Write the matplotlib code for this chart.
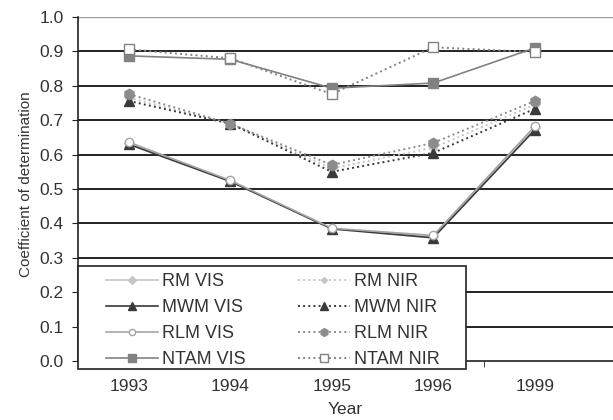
import matplotlib
matplotlib.use("Agg")
import matplotlib.pyplot as plt
from matplotlib.patches import Rectangle
import numpy as np

plt.rcParams['font.family'] = ['Liberation Sans', 'DejaVu Sans']

years = ['1993', '1994', '1995', '1996', '1999']
rm_vis = [0.635, 0.523, 0.385, 0.362, 0.68]
mwm_vis = [0.630, 0.522, 0.384, 0.358, 0.672]
rlm_vis = [0.636, 0.525, 0.386, 0.365, 0.682]
ntam_vis = [0.887, 0.877, 0.793, 0.808, 0.910]
rm_nir = [0.765, 0.690, 0.560, 0.620, 0.745]
mwm_nir = [0.756, 0.690, 0.550, 0.605, 0.733]
rlm_nir = [0.776, 0.690, 0.570, 0.634, 0.756]
ntam_nir = [0.906, 0.880, 0.776, 0.912, 0.898]

W, H = 613, 420
fig = plt.figure(figsize=(W / 100, H / 100), dpi=100)
left, right, bottom, top = 78, 613, 361, 17
ax = fig.add_axes([left / W, 1 - bottom / H, (right - left) / W, (bottom - top) / H])

x = np.arange(len(years))
light = '#c6c6c6'
dark = '#3a3a3a'
mid = '#a4a4a4'
sq = '#828282'
circ = '#8c8c8c'

lines = []
lines.append(ax.plot(x, rm_vis, '-', color=light, lw=1.2, marker='D', ms=5.5, mfc=light, mec=light, label='RM VIS')[0])
lines.append(ax.plot(x, mwm_vis, '-', color=dark, lw=1.2, marker='^', ms=7, mfc=dark, mec=dark, label='MWM VIS')[0])
lines.append(ax.plot(x, rlm_vis, '-', color=mid, lw=1.2, marker='o', ms=6, mfc='white', mec=mid, label='RLM VIS')[0])
lines.append(ax.plot(x, ntam_vis, '-', color=sq, lw=1.2, marker='s', ms=7.5, mfc=sq, mec=sq, label='NTAM VIS')[0])
lines.append(ax.plot(x, rm_nir, ':', color=light, lw=1.4, marker='D', ms=4, mfc=light, mec=light, label='RM NIR')[0])
lines.append(ax.plot(x, mwm_nir, ':', color=dark, lw=1.4, marker='^', ms=7.5, mfc=dark, mec=dark, label='MWM NIR')[0])
lines.append(ax.plot(x, rlm_nir, ':', color=circ, lw=1.4, marker='h', ms=7.5, mfc=circ, mec=circ, label='RLM NIR')[0])
lines.append(ax.plot(x, ntam_nir, ':', color=sq, lw=1.4, marker='s', ms=7.5, mfc='white', mec=sq, label='NTAM NIR')[0])

ax.set_ylim(0, 1.0)
ax.set_xlim(-0.5, (right - left) / 101.5 - 0.5)
yt = np.round(np.arange(0, 1.01, 0.1), 1)
ax.set_yticks(yt)
ax.set_yticklabels([f'{v:.1f}' for v in yt])
for v in yt[1:-1]:
    ax.axhline(v, color='#222222', lw=1.4, zorder=0)
ax.axhline(1.0, color='#a0a0a0', lw=1.0, zorder=0)

ax.set_xticks(x)
ax.set_xticklabels(years)
ax.set_xticks([0.5, 1.5, 2.5, 3.5], minor=True)
ax.tick_params(axis='x', which='major', length=0, pad=13, labelsize=12.5, colors='#333333')
ax.tick_params(axis='x', which='minor', length=4.5, direction='out', color='#222222')
ax.tick_params(axis='y', length=4.5, direction='out', labelsize=12.5, pad=6, colors='#333333')
ax.tick_params(axis='y', color='#222222')

for s in ['top', 'right']:
    ax.spines[s].set_visible(False)
ax.spines['left'].set_color('#222222')
ax.spines['bottom'].set_color('#222222')
ax.spines['left'].set_linewidth(1.2)
ax.spines['bottom'].set_linewidth(1.2)

ax.set_xlabel('Year', fontsize=12.5, color='#333333', labelpad=6)
ax.set_ylabel('Coefficient of determination', fontsize=11, color='#333333')
ax.yaxis.set_label_coords(-0.084, 0.515)

# legend frame
box_l, box_t, box_r, box_b = 78, 266, 466, 369
frame = Rectangle((box_l / W, 1 - box_b / H), (box_r - box_l) / W, (box_b - box_t) / H,
                  transform=fig.transFigure, facecolor='white', edgecolor='#222222',
                  lw=1.2, zorder=4, clip_on=False)
ax.add_patch(frame)

leg = ax.legend(handles=lines, ncol=2, loc='upper left',
                bbox_to_anchor=(106 / W, 1 - 273 / H), bbox_transform=fig.transFigure,
                frameon=False, fontsize=13, handlelength=2.9, handletextpad=0.2,
                labelspacing=0.5, borderaxespad=0, columnspacing=2.9, borderpad=0,
                markerscale=0.75)
leg.set_zorder(5)
for t in leg.get_texts():
    t.set_color('#333333')

fig.savefig('out.png', dpi=100)
